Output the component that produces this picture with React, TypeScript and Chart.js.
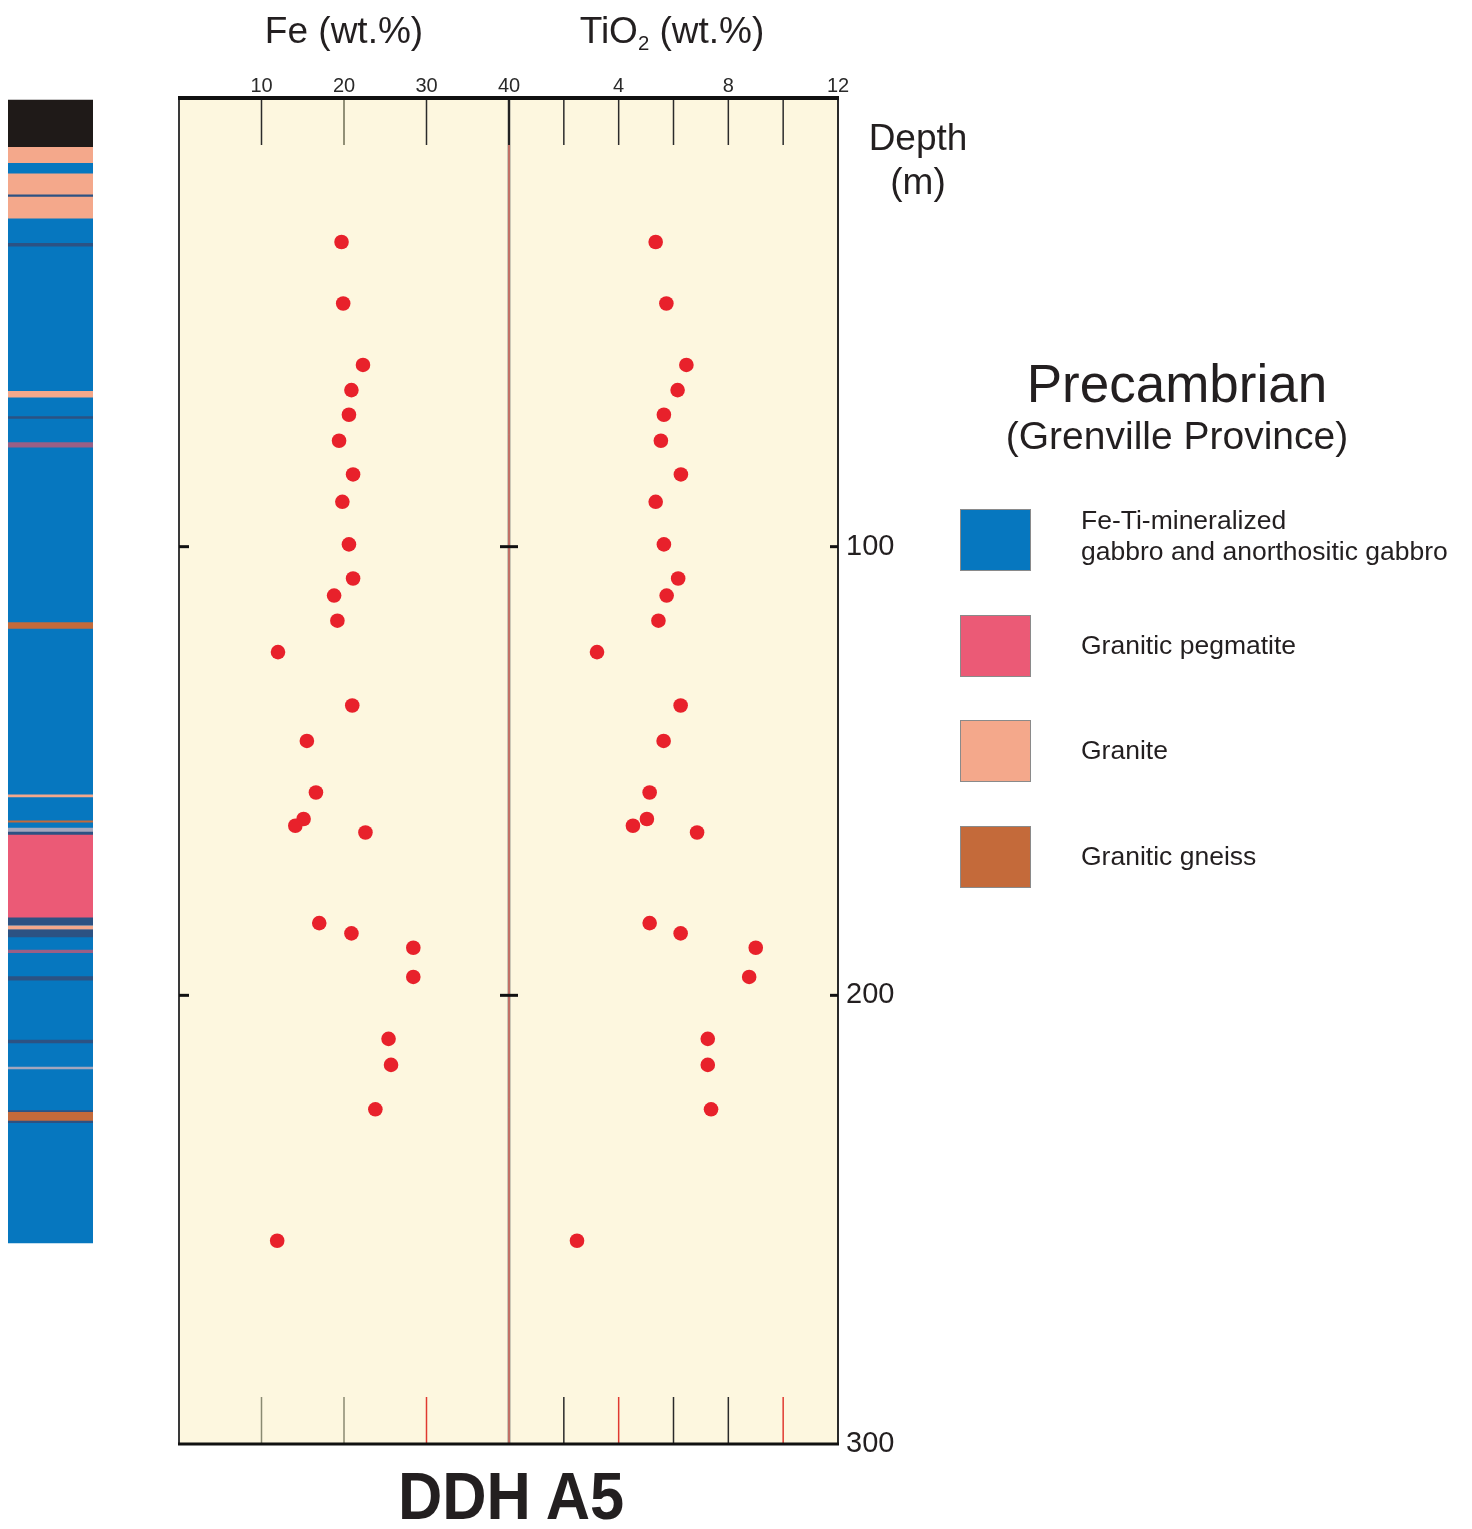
import React, { useEffect, useRef } from 'react';
import { Chart, registerables } from 'chart.js';

Chart.register(...registerables);

// ---------------- DATA ----------------
// Sample depths (m) and assays
const depthM = [32.1, 45.8, 59.5, 65.1, 70.6, 76.4, 83.9, 90.0, 99.5, 107.1, 110.9, 116.5, 123.5, 135.4, 143.3, 154.8, 160.7, 162.2, 163.7, 183.9, 186.2, 189.4, 195.9, 209.7, 215.5, 225.4, 254.7];
const feWt = [19.7, 19.9, 22.3, 20.9, 20.6, 19.4, 21.1, 19.8, 20.6, 21.1, 18.8, 19.2, 12.0, 21.0, 15.5, 16.6, 15.1, 14.1, 22.6, 17.0, 20.9, 28.4, 28.4, 25.4, 25.7, 23.8, 11.9];
const tio2Wt = [5.35, 5.74, 6.47, 6.15, 5.65, 5.54, 6.27, 5.35, 5.65, 6.17, 5.75, 5.45, 3.21, 6.26, 5.64, 5.13, 5.03, 4.52, 6.86, 5.13, 6.26, 9.0, 8.76, 7.25, 7.25, 7.37, 2.48];

// Lithology log (first interval is the host; later ones are drawn over it)
const lithTop = [11.0, 0.45, 11.0, 16.9, 21.6, 22.1, 32.4, 65.4, 71.0, 76.8, 116.9, 155.3, 161.1, 162.7, 163.6, 164.3, 182.7, 184.5, 185.4, 189.9, 195.8, 210.0, 216.0, 225.7, 226.1, 228.0];
const lithBottom = [255.2, 11.0, 14.4, 21.6, 22.1, 26.8, 33.0, 66.7, 71.4, 77.8, 118.2, 155.8, 161.4, 163.6, 164.3, 182.7, 184.3, 185.3, 187.0, 190.5, 196.6, 210.6, 216.4, 226.1, 228.0, 228.4];
const lithUnit = ['gabbro', 'cover', 'granite', 'granite', 'contact', 'granite', 'contact', 'granite', 'contact', 'mixed', 'gneiss', 'granite', 'gneiss', 'altered', 'contact', 'pegmatite', 'contact', 'granite', 'contact', 'mixed', 'contact', 'contact', 'altered', 'contact', 'gneiss', 'contact'];

// Axis ticks
const feTicks = [0, 10, 20, 30, 40];
const tio2Ticks = [0, 2, 4, 6, 8, 10, 12];
const depthTicks = [0, 100, 200, 300];

// Legend
const legendUnits = ['gabbro', 'pegmatite', 'granite', 'gneiss'];
const legendLabels = [['Fe-Ti-mineralized', 'gabbro and anorthositic gabbro'], ['Granitic pegmatite'], ['Granite'], ['Granitic gneiss']];

// ---------------- STYLE ----------------
const FONT = "'Liberation Sans', Arial, Helvetica, sans-serif";
const INK = '#231f20';
const PANEL_BG = '#fdf7df';
const DOT = '#e8212b';
const UNIT_COLORS: Record<string, string> = {
  gabbro: '#0677bf',
  cover: '#1f1a18',
  granite: '#f4a88b',
  pegmatite: '#eb5a76',
  gneiss: '#c46a3a',
  contact: '#2c5283',
  mixed: '#9a5f86',
  altered: '#a3a6bd',
};
const BOTTOM_TICK_COLORS: Record<string, string> = {
  fe10: '#8a8a72', fe20: '#8a8a72', fe30: '#e03a30',
  ti2: '#2a2a2a', ti4: '#e03a30', ti6: '#2a2a2a', ti8: '#2a2a2a', ti10: '#e03a30',
};

const panelPlugin = {
  id: 'panelFrame',
  beforeDatasetsDraw(chart: any) {
    const { ctx, chartArea } = chart;
    const fe = chart.scales.xFe;
    const ti = chart.scales.xTi;
    const y = chart.scales.y;
    const L = fe.left, M = fe.right, R = ti.right, T = chartArea.top, B = chartArea.bottom;
    const TICK = 47;
    ctx.save();
    ctx.fillStyle = PANEL_BG;
    ctx.fillRect(L, T, R - L, B - T);
    const vline = (x: number, y0: number, y1: number, c: string, w: number) => {
      ctx.beginPath(); ctx.strokeStyle = c; ctx.lineWidth = w;
      ctx.moveTo(x, y0); ctx.lineTo(x, y1); ctx.stroke();
    };
    const hline = (x0: number, x1: number, yy: number, c: string, w: number) => {
      ctx.beginPath(); ctx.strokeStyle = c; ctx.lineWidth = w;
      ctx.moveTo(x0, yy); ctx.lineTo(x1, yy); ctx.stroke();
    };
    fe.ticks.forEach((t: any) => {
      if (t.value <= fe.min || t.value >= fe.max) return;
      const x = fe.getPixelForValue(t.value);
      vline(x, T, T + TICK, t.value === 20 ? '#6e6e55' : '#2b2b2b', 1.5);
      vline(x, B - TICK, B, BOTTOM_TICK_COLORS['fe' + t.value] || '#2a2a2a', 1.5);
    });
    ti.ticks.forEach((t: any) => {
      if (t.value <= ti.min || t.value >= ti.max) return;
      const x = ti.getPixelForValue(t.value);
      vline(x, T, T + TICK, '#2b2b2b', 1.5);
      vline(x, B - TICK, B, BOTTOM_TICK_COLORS['ti' + t.value] || '#2a2a2a', 1.5);
    });
    // divider between panels
    vline(M, T, B, '#9a9a90', 3);
    vline(M, T, B, '#e8473d', 1);
    vline(M, T, T + TICK, '#222', 2);
    // frame
    vline(L, T, B, '#3a3a3a', 2);
    vline(R, T, B, '#2a2a2a', 2);
    hline(L - 1, R + 1, T, '#111', 4);
    hline(L - 1, R + 1, B, '#111', 3);
    // depth ticks
    y.ticks.forEach((t: any) => {
      if (t.value <= y.min || t.value >= y.max) return;
      const py = y.getPixelForValue(t.value);
      hline(L, L + 10, py, '#111', 3);
      hline(M - 9, M + 9, py, '#111', 3);
      hline(R - 8, R, py, '#111', 3);
    });
    ctx.restore();
  },
};

function Txt({ x, y, size, children, align = 'center', weight = 400, extra = {} }: any) {
  return (
    <div
      style={{
        position: 'absolute', left: x, top: y,
        transform: align === 'center' ? 'translate(-50%, -50%)' : 'translate(0, -50%)',
        fontSize: size, lineHeight: 1, whiteSpace: 'nowrap', fontWeight: weight, color: INK,
        ...extra,
      }}
    >
      {children}
    </div>
  );
}

export default function App() {
  const ref = useRef<HTMLCanvasElement>(null);

  useEffect(() => {
    const canvas = ref.current;
    if (!canvas) return;
    Chart.defaults.font.family = FONT;
    Chart.defaults.color = INK;

    const topFit = (s: any) => { s.height = 30; };
    const hiddenGrid = { display: false, drawTicks: false };

    const lithDatasets = lithTop.map((top, i) => ({
      type: 'bar' as const,
      label: lithUnit[i],
      data: [{ x: 'core', y: [top, lithBottom[i]] }],
      xAxisID: 'xLith',
      yAxisID: 'y',
      backgroundColor: UNIT_COLORS[lithUnit[i]],
      borderWidth: 0,
      grouped: false,
      categoryPercentage: 1,
      barPercentage: 1,
      order: lithTop.length - i + 2,
    }));

    const chart = new Chart(canvas, {
      type: 'scatter',
      data: {
        datasets: [
          ...lithDatasets,
          {
            type: 'scatter' as const,
            label: 'Fe (wt.%)',
            data: depthM.map((d, i) => ({ x: feWt[i], y: d })),
            xAxisID: 'xFe',
            yAxisID: 'y',
            pointRadius: 7.3,
            pointBackgroundColor: DOT,
            pointBorderWidth: 0,
            order: 0,
          },
          {
            type: 'scatter' as const,
            label: 'TiO2 (wt.%)',
            data: depthM.map((d, i) => ({ x: tio2Wt[i], y: d })),
            xAxisID: 'xTi',
            yAxisID: 'y',
            pointRadius: 7.3,
            pointBackgroundColor: DOT,
            pointBorderWidth: 0,
            order: 0,
          },
        ] as any,
      },
      options: {
        responsive: false,
        animation: false,
        events: [],
        layout: { padding: { top: 68, left: 8, right: 554, bottom: 85 } },
        plugins: { legend: { display: false }, tooltip: { enabled: false } },
        scales: {
          xLith: {
            type: 'category', labels: ['core'], position: 'top', stack: 'top', stackWeight: 85, weight: 4, offset: true,
            grid: hiddenGrid, border: { display: false }, ticks: { display: false }, afterFit: topFit,
          },
          xGap: {
            type: 'linear', position: 'top', stack: 'top', stackWeight: 86, weight: 3,
            grid: hiddenGrid, border: { display: false }, ticks: { display: false }, afterFit: topFit,
          },
          xFe: {
            type: 'linear', position: 'top', stack: 'top', stackWeight: 330, weight: 2,
            min: feTicks[0], max: feTicks[feTicks.length - 1],
            afterBuildTicks: (s: any) => { s.ticks = feTicks.map((v) => ({ value: v })); },
            ticks: {
              autoSkip: false, maxRotation: 0, padding: 0, color: '#2a2a2a', font: { size: 20 },
              callback: (v: any) => (Number(v) === 0 ? '' : String(v)),
            },
            grid: hiddenGrid, border: { display: false }, afterFit: topFit,
          },
          xTi: {
            type: 'linear', position: 'top', stack: 'top', stackWeight: 329, weight: 1,
            min: tio2Ticks[0], max: tio2Ticks[tio2Ticks.length - 1],
            afterBuildTicks: (s: any) => { s.ticks = tio2Ticks.map((v) => ({ value: v })); },
            ticks: {
              autoSkip: false, maxRotation: 0, padding: 0, color: '#2a2a2a', font: { size: 20 },
              callback: (v: any) => (Number(v) === 0 || Number(v) % 4 !== 0 ? '' : String(v)),
            },
            grid: hiddenGrid, border: { display: false }, afterFit: topFit,
          },
          y: {
            type: 'linear', position: 'right', reverse: true,
            min: depthTicks[0], max: depthTicks[depthTicks.length - 1],
            afterBuildTicks: (s: any) => { s.ticks = depthTicks.map((v) => ({ value: v })); },
            ticks: {
              autoSkip: false, padding: 8, color: INK, font: { size: 29 },
              callback: (v: any) => (Number(v) === 0 ? '' : String(v)),
            },
            grid: hiddenGrid, border: { display: false },
            afterFit: (s: any) => { s.width = 80; },
          },
        } as any,
      },
      plugins: [panelPlugin],
    });

    return () => chart.destroy();
  }, []);

  const legendTops = [540, 646, 751, 857];

  return (
    <div
      style={{
        position: 'absolute', left: 0, top: 0, width: 1472, height: 1529,
        background: '#ffffff', fontFamily: FONT, color: INK, overflow: 'hidden',
      }}
    >
      <canvas ref={ref} width={1472} height={1529} style={{ position: 'absolute', left: 0, top: 0, width: 1472, height: 1529 }} />

      <Txt x={344} y={30} size={37}>Fe (wt.%)</Txt>
      <Txt x={672} y={30} size={37}>
        TiO<span style={{ fontSize: '0.55em', position: 'relative', top: '0.35em' }}>2</span> (wt.%)
      </Txt>

      <Txt x={918} y={137} size={37}>Depth</Txt>
      <Txt x={918} y={181} size={37}>(m)</Txt>

      <Txt x={1177} y={383} size={53}>Precambrian</Txt>
      <Txt x={1177} y={435} size={39}>(Grenville Province)</Txt>

      {legendUnits.map((u, i) => (
        <div
          key={u}
          style={{
            position: 'absolute', left: 960, top: legendTops[i] - 31, width: 71, height: 62,
            background: UNIT_COLORS[u], boxSizing: 'border-box', border: '1px solid #8a8a8a',
          }}
        />
      ))}
      {legendLabels.map((lines, i) =>
        lines.map((line, j) => (
          <Txt
            key={i + '-' + j}
            x={1081}
            y={lines.length === 1 ? legendTops[i] - 1 : legendTops[i] - 20 + j * 31}
            size={26.5}
            align="left"
          >
            {line}
          </Txt>
        ))
      )}

      <Txt x={511} y={1496} size={66} weight={700} extra={{ transform: 'translate(-50%, -50%) scaleX(0.93)' }}>
        DDH A5
      </Txt>
    </div>
  );
}
